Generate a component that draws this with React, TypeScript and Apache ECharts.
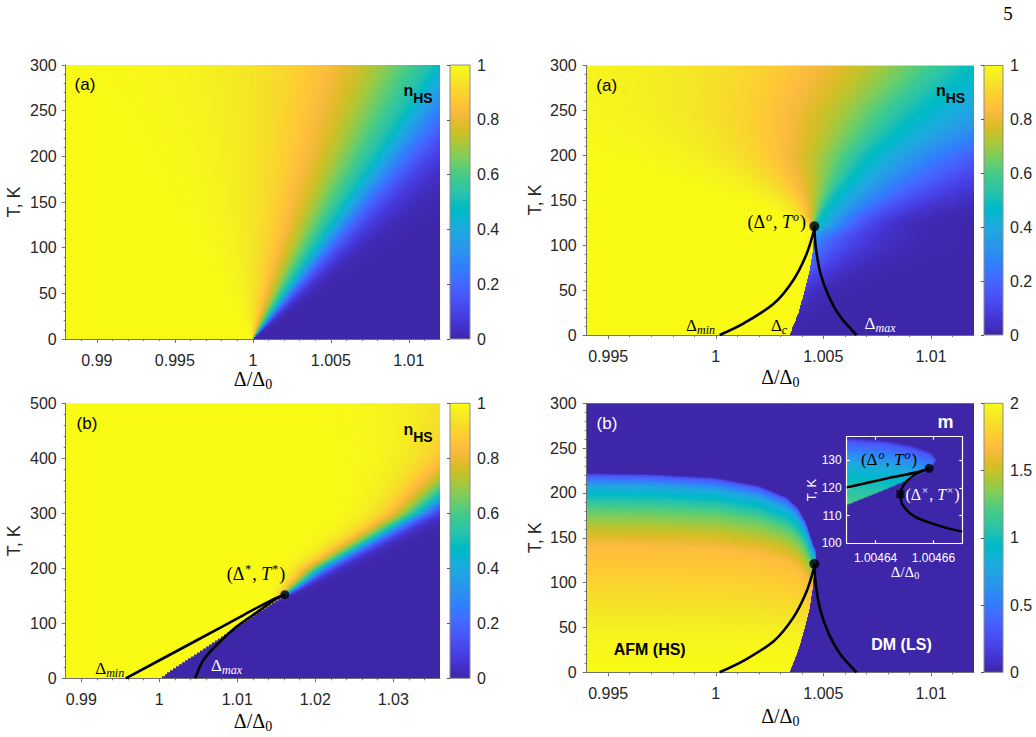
import { useEffect, useRef } from "react";
import * as echarts from "echarts";

const W = 1036;
const H = 737;

// ---------------- axis ranges and ticks ----------------
const X_A1 = [0.988, 1.012];
const Y_A1 = [0, 300];
const X_A2 = [0.994, 1.012];
const Y_A2 = [0, 300];
const X_B1 = [0.988, 1.036];
const Y_B1 = [0, 500];
const X_B2 = [0.994, 1.012];
const Y_B2 = [0, 300];
const X_IN = [1.00463, 1.00467];
const Y_IN = [100, 138.4];

const XT_A1 = [0.99, 0.995, 1, 1.005, 1.01];
const XT_A2 = [0.995, 1, 1.005, 1.01];
const XT_B1 = [0.99, 1, 1.01, 1.02, 1.03];
const YT_300 = [0, 50, 100, 150, 200, 250, 300];
const YT_500 = [0, 100, 200, 300, 400, 500];
const XT_IN = [1.00464, 1.00466];
const YT_IN = [100, 110, 120, 130];
const CB_N = [0, 0.2, 0.4, 0.6, 0.8, 1];
const CB_M = [0, 0.5, 1, 1.5, 2];

// ---------------- field readings ----------------
// (a) left: smooth crossover fan opening from Δ/Δ0 = 1 at T = 0
const FAN_T = [0, 100, 200, 300];
const FAN_C = [1.0, 1.0039, 1.0078, 1.0116];
const FAN_WL = [0.00001, 0.0014, 0.0028, 0.0042];
const FAN_WR = [0.00001, 0.00085, 0.0017, 0.0026];

// (a) right: first-order line below (Δo, To), crossover above it
const AR_T = [0, 50, 100, 110, 121, 130, 150, 200, 250, 300];
const AR_CL = [1.007, 1.007, 1.005, 1.0048, 1.00458, 1.0048, 1.0053, 1.0069, 1.0091, 1.0115];
const AR_WL = [0.0003, 0.0004, 0.0002, 0.00012, 0.00008, 0.0003, 0.00075, 0.0023, 0.0036, 0.0044];
const AR_CR = [1.0015, 1.002, 1.003, 1.0036, 1.00458, 1.0048, 1.0053, 1.0069, 1.0091, 1.0115];
const AR_WR = [0.0003, 0.0008, 0.0015, 0.0014, 0.0012, 0.0013, 0.0019, 0.0033, 0.0055, 0.006];

// Δc(T): first-order boundary up to the point (Δo, To)
const DC_T = [0, 24, 48, 72, 96, 121];
const DC_X = [1.00343, 1.00383, 1.00412, 1.00437, 1.00452, 1.00458];
const T_O = 121;
const D_O = 1.00458;

// (b) left: straight first-order line up to (Δ*, T*), crossover above
const BL_T = [0, 100, 140, 152, 200, 250, 300, 400, 500];
const BL_CL = [1.01, 1.02, 1.0162, 1.0161, 1.0205, 1.0267, 1.0328, 1.042, 1.052];
const BL_WL = [0.0003, 0.0003, 0.0003, 0.0004, 0.0012, 0.0016, 0.002, 0.0035, 0.006];
const BL_CR = [0.99, 1.0, 1.0135, 1.0161, 1.0205, 1.0267, 1.0328, 1.042, 1.052];
const BL_WR = [0.0003, 0.0003, 0.0005, 0.0003, 0.0009, 0.0011, 0.0013, 0.002, 0.0025];
const BL_SPLIT_T = [0, 152];
const BL_SPLIT_X = [1.0001, 1.0161];
const T_STAR = 152;
const D_STAR = 1.0161;

// (b) right: AFM dome — Néel temperature along Δ and m against T/TN
const TN_X = [0.994, 0.997, 1.0, 1.002, 1.0033, 1.0038, 1.0042, 1.0044, 1.00455, 1.00463, 1.004643, 1.0046524, 1.004659, 1.0046613];
const TN_T = [222, 221, 217, 208, 195, 184, 167, 152, 141, 138.2, 137.2, 135.4, 133, 130];
const M_RATIO = [0, 0.2, 0.45, 0.63, 0.74, 0.82, 0.88, 0.93, 0.96, 0.99, 1];
const M_VALUE = [2, 1.96, 1.8, 1.68, 1.44, 1.24, 1.0, 0.8, 0.56, 0.3, 0];
// inset: lower edge of the AFM wedge near (Δo, To)
const DCI_T = [113.8, 119.2, 123.4, 125.8, 130];
const DCI_X = [1.00463, 1.004643, 1.0046524, 1.004657, 1.0046613];

// ---------------- curves ----------------
const DMIN_A = [[1.00018, 0], [1.0013, 13], [1.0027, 35], [1.0036, 61], [1.0042, 89], [1.00455, 115], [D_O, T_O]];
const DMAX_A = [[D_O, T_O], [1.00464, 99], [1.00486, 69], [1.00525, 43], [1.00578, 20.5], [1.00654, 0]];
const DMIN_B = [[0.9957, 0], [1.0044, 66], [1.0108, 115], [1.0146, 143.5], [D_STAR, T_STAR]];
const DMAX_B = [[1.0046, 0], [1.00565, 33], [1.00736, 60.5], [1.00993, 94], [1.01292, 124], [1.01506, 145.5], [D_STAR, T_STAR]];
const INSET_O = [1.0046585, 127];
const INSET_X = [1.0046486, 117.7];
const INSET_LEFT = [[1.00463, 120.1], [1.004644, 123.4], [1.0046535, 125.4], INSET_O];
const INSET_S = [INSET_O, [1.0046535, 124.6], [1.0046506, 122.2], [1.0046488, 119.2], INSET_X, [1.0046494, 113.8], [1.0046535, 109.6], [1.004663, 106], [1.00467, 104.2]];

// ---------------- colour map ----------------
const PARULA = [
  [0.2422, 0.1504, 0.6603], [0.2504, 0.165, 0.7076], [0.2578, 0.1818, 0.7511], [0.2647, 0.1978, 0.7952],
  [0.2706, 0.2147, 0.8364], [0.2751, 0.2342, 0.871], [0.2783, 0.2559, 0.8991], [0.2803, 0.2782, 0.9221],
  [0.2813, 0.3006, 0.9414], [0.281, 0.3228, 0.9579], [0.2795, 0.3447, 0.9717], [0.276, 0.3667, 0.9829],
  [0.2699, 0.3892, 0.9906], [0.2602, 0.4123, 0.9952], [0.244, 0.4358, 0.9988], [0.2206, 0.4603, 0.9973],
  [0.1963, 0.4847, 0.9892], [0.1834, 0.5074, 0.9798], [0.1786, 0.5289, 0.9682], [0.1764, 0.5499, 0.952],
  [0.1687, 0.5703, 0.9359], [0.154, 0.5902, 0.9218], [0.146, 0.6091, 0.9079], [0.138, 0.6276, 0.8973],
  [0.1248, 0.6459, 0.8883], [0.1113, 0.6635, 0.8763], [0.0952, 0.6798, 0.8598], [0.0689, 0.6948, 0.8394],
  [0.0297, 0.7082, 0.8163], [0.0036, 0.7203, 0.7917], [0.0067, 0.7312, 0.766], [0.0433, 0.7411, 0.7394],
  [0.0964, 0.75, 0.712], [0.1408, 0.7584, 0.6842], [0.1717, 0.767, 0.6554], [0.1938, 0.7758, 0.6251],
  [0.2161, 0.7843, 0.5923], [0.247, 0.7918, 0.5567], [0.2906, 0.7973, 0.5188], [0.3406, 0.8008, 0.4789],
  [0.3909, 0.8029, 0.4354], [0.4456, 0.8024, 0.3909], [0.5044, 0.7993, 0.348], [0.5616, 0.7942, 0.3045],
  [0.6174, 0.7876, 0.2612], [0.672, 0.7793, 0.2227], [0.7242, 0.7698, 0.191], [0.7738, 0.7598, 0.1646],
  [0.8203, 0.7498, 0.1535], [0.8634, 0.7406, 0.1596], [0.9035, 0.733, 0.1774], [0.9393, 0.7288, 0.21],
  [0.9728, 0.7298, 0.2394], [0.9956, 0.7434, 0.2371], [0.997, 0.7659, 0.2199], [0.9952, 0.7893, 0.2028],
  [0.9892, 0.8136, 0.1885], [0.9786, 0.8386, 0.1766], [0.9676, 0.8639, 0.1643], [0.961, 0.889, 0.1537],
  [0.9597, 0.9135, 0.1423], [0.9628, 0.9373, 0.1265], [0.9691, 0.9606, 0.1064], [0.9769, 0.9839, 0.0805],
];

function parula(v: number): string {
  const t = Math.min(1, Math.max(0, v)) * (PARULA.length - 1);
  const i = Math.min(PARULA.length - 2, Math.floor(t));
  const f = t - i;
  const a = PARULA[i];
  const b = PARULA[i + 1];
  const c = (k: number) => Math.round(255 * (a[k] + (b[k] - a[k]) * f));
  return `rgb(${c(0)},${c(1)},${c(2)})`;
}

// ---------------- helpers ----------------
function interp(xs: number[], ys: number[], x: number): number {
  const n = xs.length;
  if (x <= xs[0]) return ys[0];
  if (x >= xs[n - 1]) return ys[n - 1];
  for (let i = 1; i < n; i++) {
    if (x <= xs[i]) {
      const f = (x - xs[i - 1]) / (xs[i] - xs[i - 1]);
      return ys[i - 1] + f * (ys[i] - ys[i - 1]);
    }
  }
  return ys[n - 1];
}

const logistic = (x: number, c: number, w: number) => 1 / (1 + Math.exp((x - c) / Math.max(w, 1e-7)));

function rowStops(xr: number[], split: number, left: (x: number) => number, right: (x: number) => number, extra: number[], norm: (v: number) => number) {
  const a = xr[0];
  const b = xr[1];
  const span = b - a;
  const N = 80;
  const xs: number[] = [];
  for (let i = 0; i <= N; i++) xs.push(a + (span * i) / N);
  for (const e of extra) if (e > a && e < b) xs.push(e);
  xs.sort((p, q) => p - q);
  const stops: any[] = [];
  let splitDone = !(split > a && split < b);
  for (const x of xs) {
    if (!splitDone && x >= split) {
      const o = (split - a) / span;
      stops.push({ offset: o, color: parula(norm(left(split - span * 1e-6))) });
      stops.push({ offset: o, color: parula(norm(right(split))) });
      splitDone = true;
    }
    const v = x < split ? left(x) : right(x);
    stops.push({ offset: (x - a) / span, color: parula(norm(v)) });
  }
  return stops;
}

type NTable = { T: number[]; cL: number[]; wL: number[]; cR: number[]; wR: number[] };

function nhsStops(xr: number[], tab: NTable, T: number, tCrit: number, splitOf: (t: number) => number) {
  const cL = interp(tab.T, tab.cL, T);
  const wL = interp(tab.T, tab.wL, T);
  const wR = interp(tab.T, tab.wR, T);
  const below = T < tCrit;
  const cR = below ? interp(tab.T, tab.cR, T) : cL;
  const split = below ? splitOf(T) : cL;
  const extra: number[] = [];
  for (let k = -6; k <= 6; k++) {
    extra.push(cL + k * wL * 0.7);
    extra.push(cR + k * wR * 0.7);
  }
  return rowStops(xr, split, (x) => logistic(x, cL, wL), (x) => logistic(x, cR, wR), extra, (v) => v);
}

function tnAt(x: number) {
  return interp(TN_X, TN_T, x);
}
function invTN(T: number) {
  if (T > TN_T[0]) return -Infinity;
  const ts = TN_T.slice().reverse();
  const xs = TN_X.slice().reverse();
  return interp(ts, xs, T);
}
function mAt(x: number, T: number) {
  return interp(M_RATIO, M_VALUE, T / tnAt(x));
}

function mStops(xr: number[], T: number, boundary: number) {
  const span = xr[1] - xr[0];
  const extra = [0.002, 0.005, 0.01, 0.02, 0.035, 0.05].map((k) => boundary - span * k);
  return rowStops(xr, boundary, (x) => mAt(x, T), () => 0, extra, (v) => v / 2);
}

function steps(a: number, b: number, step: number, skip: number[]): number[] {
  const out: number[] = [];
  const n = Math.round((b - a) / step);
  for (let i = 0; i <= n; i++) {
    const v = +(a + i * step).toFixed(9);
    if (!skip.some((s) => Math.abs(s - v) < step * 1e-3)) out.push(v);
  }
  return out;
}

function rowBands(xr: number[], yr: number[], n: number) {
  const out: number[][] = [];
  for (let i = n - 1; i >= 0; i--) {
    out.push([xr[0], yr[0] + ((yr[1] - yr[0]) * i) / n, yr[0] + ((yr[1] - yr[0]) * (i + 1)) / n]);
  }
  return out;
}

const fmt = (v: number) => `${parseFloat(Number(v).toPrecision(8))}`;

// ---------------- styling ----------------
const SANS = "'Liberation Sans', Arial, Helvetica, sans-serif";
const SERIF = "'Liberation Serif', 'Times New Roman', serif";
const AXIS_COLOR = "#707070";
const TEXT_COLOR = "#262626";
const WHITE = "#ffffff";

// ---------------- layout ----------------
const G_A1 = { left: 65.7, top: 65, width: 374.3, height: 274 };
const C_A1 = { left: 450, top: 65, width: 20, height: 274 };
const G_A2 = { left: 586.7, top: 65.5, width: 387.3, height: 269.5 };
const C_A2 = { left: 984, top: 65.5, width: 19, height: 269.5 };
const G_B1 = { left: 65.7, top: 403.3, width: 374.3, height: 275 };
const C_B1 = { left: 450, top: 403.3, width: 20, height: 275 };
const G_B2 = { left: 586.7, top: 403.3, width: 387.3, height: 269 };
const C_B2 = { left: 984, top: 403.3, width: 19, height: 269 };
const G_IN = { left: 846.7, top: 436.7, width: 115.6, height: 106.6 };

function buildOption() {
  const grids: any[] = [];
  const xAxes: any[] = [];
  const yAxes: any[] = [];
  const series: any[] = [];
  const texts: any[] = [];

  const addGrid = (g: any) => {
    grids.push({ ...g, containLabel: false, show: false });
    return grids.length - 1;
  };

  const majorAxis = (gi: number, r: number[], ticks: number[], pos: string, margin: number) => ({
    type: "value",
    gridIndex: gi,
    min: r[0],
    max: r[1],
    position: pos,
    z: 5,
    axisLine: { show: true, onZero: false, lineStyle: { color: AXIS_COLOR, width: 1 } },
    axisTick: { show: true, customValues: ticks, length: 4, lineStyle: { color: AXIS_COLOR, width: 1 } },
    axisLabel: { show: true, customValues: ticks, margin, fontFamily: SANS, fontSize: 16, color: TEXT_COLOR, formatter: fmt },
    splitLine: { show: false },
  });
  const minorAxis = (gi: number, r: number[], ticks: number[], pos: string) => ({
    type: "value",
    gridIndex: gi,
    min: r[0],
    max: r[1],
    position: pos,
    z: 5,
    axisLine: { show: false },
    axisTick: { show: true, customValues: ticks, length: 2, lineStyle: { color: AXIS_COLOR, width: 1 } },
    axisLabel: { show: false },
    splitLine: { show: false },
  });

  const addPanel = (g: any, xr: number[], yr: number[], xt: number[], xMinor: number, yt: number[], yMinor: number, yMargin: number, stopsFor: (T: number) => any[], rows: number) => {
    const gi = addGrid(g);
    const xi = xAxes.length;
    xAxes.push(majorAxis(gi, xr, xt, "bottom", 13));
    xAxes.push(minorAxis(gi, xr, steps(Math.ceil(xr[0] / xMinor + 1e-6) * xMinor, Math.floor(xr[1] / xMinor - 1e-6) * xMinor, xMinor, xt), "bottom"));
    const yi = yAxes.length;
    yAxes.push(majorAxis(gi, yr, yt, "left", yMargin));
    yAxes.push(minorAxis(gi, yr, steps(yr[0] + yMinor, yr[1] - yMinor, yMinor, yt), "left"));
    series.push({
      type: "custom",
      xAxisIndex: xi,
      yAxisIndex: yi,
      z: 2,
      silent: true,
      clip: false,
      data: rowBands(xr, yr, rows),
      renderItem: (_p: any, api: any) => {
        const t0 = api.value(1);
        const t1 = api.value(2);
        const tl = api.coord([xr[0], t1]);
        const br = api.coord([xr[1], t0]);
        const bottom = api.coord([xr[0], yr[0]])[1];
        const h = Math.min(br[1] - tl[1] + 0.9, bottom - tl[1]);
        return {
          type: "rect",
          shape: { x: tl[0], y: tl[1], width: br[0] - tl[0], height: h },
          style: { fill: new echarts.graphic.LinearGradient(0, 0, 1, 0, stopsFor((t0 + t1) / 2)) },
        };
      },
    });
    return { xi, yi };
  };

  const addColorbar = (g: any, max: number, ticks: number[]) => {
    const gi = addGrid(g);
    const xi = xAxes.length;
    xAxes.push({ type: "value", gridIndex: gi, min: 0, max: 1, show: false });
    const yi = yAxes.length;
    yAxes.push({
      type: "value",
      gridIndex: gi,
      min: 0,
      max,
      position: "right",
      z: 5,
      axisLine: { show: false },
      axisTick: { show: true, inside: true, customValues: ticks, length: 3, lineStyle: { color: "#555" } },
      axisLabel: { customValues: ticks, margin: 7, fontFamily: SANS, fontSize: 16, color: TEXT_COLOR, formatter: fmt },
      splitLine: { show: false },
    });
    const stops = PARULA.map((_c, i) => ({ offset: i / (PARULA.length - 1), color: parula(i / (PARULA.length - 1)) }));
    series.push({
      type: "custom",
      xAxisIndex: xi,
      yAxisIndex: yi,
      z: 2,
      silent: true,
      clip: false,
      data: [[0, 0]],
      renderItem: (_p: any, api: any) => {
        const tl = api.coord([0, max]);
        const br = api.coord([1, 0]);
        return {
          type: "rect",
          shape: { x: tl[0], y: tl[1], width: br[0] - tl[0], height: br[1] - tl[1] },
          style: { fill: new echarts.graphic.LinearGradient(0, 1, 0, 0, stops), stroke: "#8c8c8c", lineWidth: 1 },
        };
      },
    });
  };

  const addCurve = (ax: any, pts: number[][], z: number, width: number) =>
    series.push({
      type: "line",
      xAxisIndex: ax.xi,
      yAxisIndex: ax.yi,
      data: pts,
      symbol: "none",
      smooth: 0.3,
      z,
      silent: true,
      lineStyle: { color: "#000", width },
    });
  const addDot = (ax: any, pt: number[], z: number, symbol: string, size: number) =>
    series.push({
      type: "scatter",
      xAxisIndex: ax.xi,
      yAxisIndex: ax.yi,
      data: [pt],
      symbol,
      symbolSize: size,
      z,
      silent: true,
      itemStyle: { color: "#000" },
    });

  // ---- panel (a), left ----
  const fanTab: NTable = { T: FAN_T, cL: FAN_C, wL: FAN_WL, cR: FAN_C, wR: FAN_WR };
  addPanel(G_A1, X_A1, Y_A1, XT_A1, 0.001, YT_300, 10, 9, (T) => nhsStops(X_A1, fanTab, T, -1, () => 0), 137);
  addColorbar(C_A1, 1, CB_N);

  // ---- panel (a), right ----
  const arTab: NTable = { T: AR_T, cL: AR_CL, wL: AR_WL, cR: AR_CR, wR: AR_WR };
  const axA2 = addPanel(G_A2, X_A2, Y_A2, XT_A2, 0.001, YT_300, 10, 10, (T) => nhsStops(X_A2, arTab, T, T_O, (t) => interp(DC_T, DC_X, t)), 135);
  addColorbar(C_A2, 1, CB_N);
  addCurve(axA2, DMIN_A, 10, 2.6);
  addCurve(axA2, DMAX_A, 10, 2.6);
  addDot(axA2, [D_O, T_O], 11, "circle", 10);

  // ---- panel (b), left ----
  const blTab: NTable = { T: BL_T, cL: BL_CL, wL: BL_WL, cR: BL_CR, wR: BL_WR };
  const axB1 = addPanel(G_B1, X_B1, Y_B1, XT_B1, 0.002, YT_500, 20, 9, (T) => nhsStops(X_B1, blTab, T, T_STAR, (t) => interp(BL_SPLIT_T, BL_SPLIT_X, t)), 138);
  addColorbar(C_B1, 1, CB_N);
  addCurve(axB1, DMIN_B, 10, 2.6);
  addCurve(axB1, DMAX_B, 10, 2.6);
  addDot(axB1, [D_STAR, T_STAR], 11, "circle", 9);

  // ---- panel (b), right: staggered magnetisation ----
  const mainBoundary = (T: number) => (T < T_O ? interp(DC_T, DC_X, T) : invTN(T));
  const axB2 = addPanel(G_B2, X_B2, Y_B2, XT_A2, 0.001, YT_300, 10, 10, (T) => mStops(X_B2, T, mainBoundary(T)), 269);
  addColorbar(C_B2, 2, CB_M);
  addCurve(axB2, DMIN_A, 10, 2.6);
  addCurve(axB2, DMAX_A, 10, 2.6);
  addDot(axB2, [D_O, T_O], 11, "circle", 10);

  // ---- inset ----
  const gi = addGrid(G_IN);
  const insetAxis = (pos: string, r: number[], ticks: number[], labels: boolean) => ({
    type: "value",
    gridIndex: gi,
    min: r[0],
    max: r[1],
    position: pos,
    z: 25,
    axisLine: { show: true, onZero: false, lineStyle: { color: WHITE, width: 1.2 } },
    axisTick: { show: true, inside: true, customValues: ticks, length: 3, lineStyle: { color: WHITE, width: 1.2 } },
    axisLabel: labels
      ? { show: true, customValues: ticks, margin: pos === "bottom" ? 9 : 5, fontFamily: SANS, fontSize: 12, color: WHITE, formatter: fmt }
      : { show: false },
    splitLine: { show: false },
  });
  const ixi = xAxes.length;
  xAxes.push(insetAxis("bottom", X_IN, XT_IN, true));
  xAxes.push(insetAxis("top", X_IN, XT_IN, false));
  const iyi = yAxes.length;
  yAxes.push(insetAxis("left", Y_IN, YT_IN, true));
  yAxes.push(insetAxis("right", Y_IN, YT_IN, false));
  const insetBoundary = (T: number) => (T < DCI_T[0] ? -Infinity : Math.min(interp(DCI_T, DCI_X, T), invTN(T)));
  series.push({
    type: "custom",
    xAxisIndex: ixi,
    yAxisIndex: iyi,
    z: 20,
    silent: true,
    clip: false,
    data: rowBands(X_IN, Y_IN, 107),
    renderItem: (_p: any, api: any) => {
      const t0 = api.value(1);
      const t1 = api.value(2);
      const tl = api.coord([X_IN[0], t1]);
      const br = api.coord([X_IN[1], t0]);
      const bottom = api.coord([X_IN[0], Y_IN[0]])[1];
      const h = Math.min(br[1] - tl[1] + 0.9, bottom - tl[1]);
      const T = (t0 + t1) / 2;
      return {
        type: "rect",
        shape: { x: tl[0], y: tl[1], width: br[0] - tl[0], height: h },
        style: { fill: new echarts.graphic.LinearGradient(0, 0, 1, 0, mStops(X_IN, T, insetBoundary(T))) },
      };
    },
  });
  const axIn = { xi: ixi, yi: iyi };
  addCurve(axIn, INSET_LEFT, 30, 2.4);
  addCurve(axIn, INSET_S, 30, 2.4);
  addDot(axIn, INSET_O, 31, "circle", 9);
  addDot(axIn, INSET_X, 31, "rect", 8);

  // ---------------- texts ----------------
  const plain = (s: string, x: number, y: number, size: number, fill: string, weight = "normal", rot = 0, family = SANS) => ({
    type: "text",
    x,
    y,
    rotation: rot,
    z: 100,
    silent: true,
    style: { text: s, fill, fontFamily: family, fontSize: size, fontWeight: weight, align: "center", verticalAlign: "middle" },
  });
  const mathRich = (size: number, fill: string) => {
    const s = Math.round(size * 0.68);
    const off = Math.round(size * 0.55);
    return {
      d: { fontFamily: SERIF, fontSize: size, fill },
      i: { fontFamily: SERIF, fontSize: size, fontStyle: "italic", fill },
      sup: { fontFamily: SERIF, fontSize: s, fontStyle: "italic", fill, padding: [0, 1, off, 1] },
      supr: { fontFamily: SERIF, fontSize: s, fill, padding: [0, 1, off, 1] },
      sub: { fontFamily: SERIF, fontSize: s, fontStyle: "italic", fill, padding: [off, 0, 0, 0] },
      subr: { fontFamily: SERIF, fontSize: s, fill, padding: [off, 0, 0, 0] },
    };
  };
  const math = (s: string, x: number, y: number, size: number, fill: string) => ({
    type: "text",
    x,
    y,
    z: 100,
    silent: true,
    style: { text: s, rich: mathRich(size, fill), fill, fontFamily: SERIF, fontSize: size, align: "center", verticalAlign: "middle" },
  });
  const nhs = (x: number, y: number) => ({
    type: "text",
    x,
    y,
    z: 100,
    silent: true,
    style: {
      text: "{n|n}{h|HS}",
      align: "center",
      verticalAlign: "middle",
      fill: "#000",
      rich: {
        n: { fontFamily: SANS, fontSize: 16, fontWeight: "bold", fill: "#000" },
        h: { fontFamily: SANS, fontSize: 14, fontWeight: "bold", fill: "#000", padding: [15, 0, 0, 0] },
      },
    },
  });

  const ratio = "{d|Δ/Δ}{subr|0}";
  const tk = "T, K";
  texts.push(
    plain("(a)", 85, 84.5, 17, "#000"),
    nhs(418, 90),
    plain("(a)", 606.7, 85, 17, "#000"),
    nhs(950.5, 90),
    plain("(b)", 87, 423.5, 17, "#000"),
    nhs(418, 429),
    plain("(b)", 607, 423, 17, WHITE),
    plain("m", 945.5, 422, 18, WHITE, "bold"),
    math(ratio, 253, 378.5, 20, "#000"),
    math(ratio, 780.3, 377, 20, "#000"),
    math(ratio, 253, 721, 20, "#000"),
    math(ratio, 780.3, 715.5, 20, "#000"),
    plain(tk, 14.2, 202, 18, TEXT_COLOR, "normal", Math.PI / 2),
    plain(tk, 535, 200, 18, TEXT_COLOR, "normal", Math.PI / 2),
    plain(tk, 14.2, 540.8, 18, TEXT_COLOR, "normal", Math.PI / 2),
    plain(tk, 535, 537.8, 18, TEXT_COLOR, "normal", Math.PI / 2),
    math("{d|(Δ}{sup|o}{d|, }{i|T}{sup|o}{d|)}", 776.7, 221.7, 18, "#000"),
    math("{d|Δ}{sub|min}", 700.5, 325, 17, "#000"),
    math("{d|Δ}{sub|c}", 779, 325, 17, "#000"),
    math("{d|Δ}{sub|max}", 880, 323, 17, WHITE),
    math("{d|(Δ}{supr|*}{d|, }{i|T}{supr|*}{d|)}", 256, 574, 18, "#000"),
    math("{d|Δ}{sub|min}", 109.7, 668, 17, "#000"),
    math("{d|Δ}{sub|max}", 226.5, 665, 17, WHITE),
    plain("AFM (HS)", 649.7, 649, 16, "#000", "bold"),
    plain("DM (LS)", 901.5, 644, 16, WHITE, "bold"),
    math("{d|(Δ}{sup|o}{d|, }{i|T}{sup|o}{d|)}", 889, 459, 17, "#000"),
    math("{d|(Δ}{supr|×}{d|, }{i|T}{supr|×}{d|)}", 932.5, 494, 16, WHITE),
    math(ratio, 905, 571.7, 15, WHITE),
    plain(tk, 811.7, 490, 13, WHITE, "normal", Math.PI / 2),
    plain("5", 1008, 13.5, 19, "#000", "normal", 0, SERIF)
  );

  return {
    animation: false,
    backgroundColor: "#ffffff",
    grid: grids,
    xAxis: xAxes,
    yAxis: yAxes,
    series,
    graphic: { elements: texts },
  };
}

export default function App() {
  const ref = useRef<HTMLDivElement>(null);
  useEffect(() => {
    if (!ref.current) return;
    const chart = echarts.init(ref.current, undefined, { renderer: "svg", width: W, height: H });
    chart.setOption(buildOption() as any);
    return () => chart.dispose();
  }, []);
  return <div ref={ref} style={{ position: "fixed", left: 0, top: 0, width: W, height: H, background: "#fff" }} />;
}
